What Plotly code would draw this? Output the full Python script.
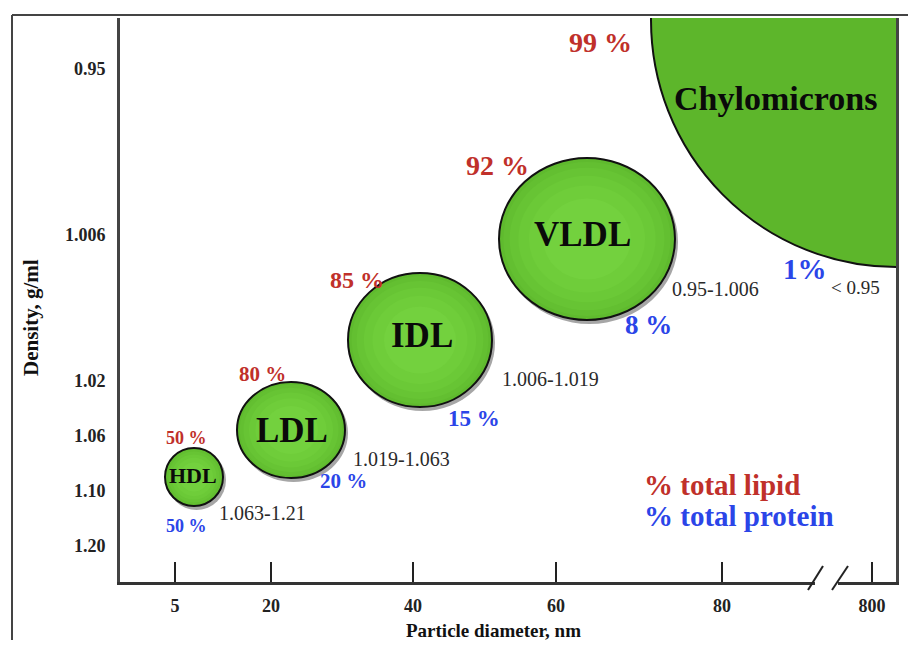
import plotly.graph_objects as go

# ---------------- data ----------------
x_tick_pos = [55, 151, 293, 436, 602, 752]
x_tick_labels = ["5", "20", "40", "60", "80", "800"]
y_tick_pos = [51, 217, 363, 418, 473, 528]
y_tick_labels = ["0.95", "1.006", "1.02", "1.06", "1.10", "1.20"]

particles = ["HDL", "LDL", "IDL", "VLDL", "Chylomicrons"]
center_x = [74, 171, 300, 467, 776]
center_y = [459, 412, 322, 221, 2]
radius_x = [29, 54, 72, 88, 245]
radius_y = [29, 48, 67, 81, 247]
lipid_pct = ["50 %", "80 %", "85 %", "92 %", "99 %"]
protein_pct = ["50 %", "20 %", "15 %", "8 %", "1%"]
density_range = ["1.063-1.21", "1.019-1.063", "1.006-1.019", "0.95-1.006", "< 0.95"]

# label placements (schematic units)
name_xy = [(72.5, 457), (171.5, 412), (302, 317), (462, 216), (655, 80)]
name_size = [22, 35, 35, 35, 34]
lipid_xy = [(66.5, 420), (142, 356), (237, 262), (377, 147), (480, 24)]
lipid_size = [18, 21, 24, 28, 28]
protein_xy = [(66.5, 508), (223, 463), (354, 400), (528, 307), (685, 251)]
protein_size = [18, 21, 23, 27, 29]
density_xy = [(142, 495), (281, 441), (430, 361), (595, 271), (735, 269)]
density_size = [20, 20, 20, 20, 19]

RED = "#c0302a"
BLUE = "#2b45e8"
SERIF = "Liberation Serif, Times New Roman, serif"

OFF = 8  # page body margin compensation
W, H = 900, 632
ML, MR, MT, MB = 120 - OFF, 12, 18 - OFF, 58
PW, PH = W - ML - MR, H - MT - MB


def px(xp):
    # reference pixel x -> paper
    return (xp - OFF - ML) / PW


def py(yp):
    # reference pixel y -> paper
    return (H - MB - (yp - OFF)) / PH


fig = go.Figure()
fig.add_trace(go.Scatter(x=[None], y=[None], showlegend=False))

shapes = []
# chylomicrons (clipped quarter)
i = 4
shapes.append(dict(type="circle", xref="x", yref="y",
                   x0=center_x[i] - radius_x[i], x1=center_x[i] + radius_x[i],
                   y0=center_y[i] - radius_y[i], y1=center_y[i] + radius_y[i],
                   fillcolor="#5db62b", line=dict(color="#111", width=2), layer="below"))
# bubbles
for i in range(4):
    cx, cy, rx, ry = center_x[i], center_y[i], radius_x[i], radius_y[i]
    shapes.append(dict(type="circle", xref="x", yref="y",
                       x0=cx - rx + 2, x1=cx + rx + 3, y0=cy - ry + 2, y1=cy + ry + 4,
                       fillcolor="rgba(0,0,0,0.35)", line=dict(width=0), layer="below"))
    shapes.append(dict(type="circle", xref="x", yref="y",
                       x0=cx - rx, x1=cx + rx, y0=cy - ry, y1=cy + ry,
                       fillcolor="#5fba2e", line=dict(color="#111", width=2), layer="below"))
    for f, col in [(0.95, "#63bf31"), (0.88, "#67c434"), (0.78, "#6bc937"),
                   (0.66, "#6fcd3a"), (0.5, "#73d13e")]:
        shapes.append(dict(type="circle", xref="x", yref="y",
                           x0=cx - rx * f, x1=cx + rx * f, y0=cy - ry * f, y1=cy + ry * f,
                           fillcolor=col, line=dict(width=0), layer="below"))

# outer frame
shapes.append(dict(type="line", xref="paper", yref="paper",
                   x0=px(12), x1=px(12), y0=py(660), y1=py(15),
                   line=dict(color="#444", width=2)))
shapes.append(dict(type="line", xref="paper", yref="paper",
                   x0=px(12), x1=px(930), y0=py(15), y1=py(15),
                   line=dict(color="#444", width=2)))
# axis break
shapes.append(dict(type="rect", xref="paper", yref="paper",
                   x0=px(815), x1=px(838), y0=py(586), y1=py(578),
                   fillcolor="white", line=dict(width=0), layer="above"))
for xa, xb in [(808, 823), (832, 848)]:
    shapes.append(dict(type="line", xref="paper", yref="paper",
                       x0=px(xa), x1=px(xb), y0=py(590), y1=py(566),
                       line=dict(color="#222", width=2), layer="above"))

ann = []


def add_text(x, y, text, size, color, bold=True, xanchor="center", xref="x", yref="y", angle=0):
    ann.append(dict(x=x, y=y, xref=xref, yref=yref, text=f"<b>{text}</b>" if bold else text,
                    showarrow=False, xanchor=xanchor, yanchor="middle", textangle=angle,
                    font=dict(family=SERIF, size=size, color=color)))


for i in range(5):
    add_text(*name_xy[i], particles[i], name_size[i], "#0a0a0a")
    add_text(*lipid_xy[i], lipid_pct[i], lipid_size[i], RED)
    add_text(*protein_xy[i], protein_pct[i], protein_size[i], BLUE)
    add_text(*density_xy[i], density_range[i], density_size[i], "#2a2a2a", bold=False)

add_text(522, 467, "% total lipid", 29, RED, xanchor="left")
add_text(522, 498, "% total protein", 29, BLUE, xanchor="left")

add_text(px(31), py(318), "Density, g/ml", 21, "#111", xref="paper", yref="paper", angle=-90)
add_text(px(493), py(630), "Particle diameter, nm", 19, "#111", xref="paper", yref="paper")

fig.update_layout(
    width=W, height=H,
    margin=dict(l=ML, r=MR, t=MT, b=MB),
    paper_bgcolor="white", plot_bgcolor="white",
    shapes=shapes, annotations=ann, showlegend=False,
    xaxis=dict(range=[0, PW], tickvals=x_tick_pos, ticktext=[f"<b>{t}</b>" for t in x_tick_labels],
               showgrid=False, zeroline=False, showline=True, linecolor="#333", linewidth=2.5,
               ticks="inside", ticklen=20, tickwidth=2, tickcolor="#222",
               tickfont=dict(family=SERIF, size=18, color="#222"), ticklabelstandoff=6),
    yaxis=dict(range=[PH, 0], tickvals=y_tick_pos, ticktext=[f"<b>{t}</b>" for t in y_tick_labels],
               showgrid=False, zeroline=False, showline=True, linecolor="#444", linewidth=3,
               mirror=True, ticks="", tickfont=dict(family=SERIF, size=18, color="#222"),
               ticklabelstandoff=8),
)

fig.write_html("out.html")
